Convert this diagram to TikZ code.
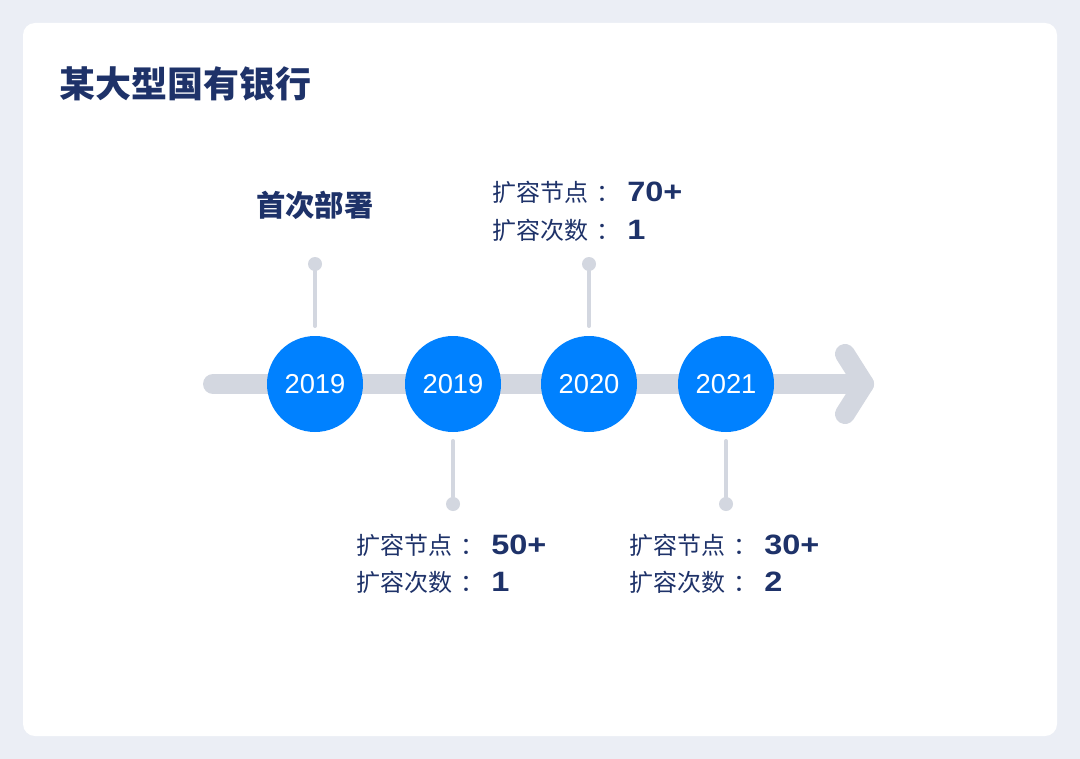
\documentclass[tikz,border=0pt]{standalone}
\usepackage{fontspec}
\setmainfont{Noto Sans CJK SC}
\newfontfamily\numfont{Liberation Sans}
\newfontfamily\valfont[FakeStretch=1.16]{Liberation Sans}
\definecolor{bgc}{HTML}{EBEEF5}
\definecolor{barc}{HTML}{D3D7E0}
\definecolor{bluec}{HTML}{0081FF}
\definecolor{navy}{HTML}{1E3269}
\newcommand{\colonsep}{\kern6.5pt}
\tikzset{
  yearnode/.style={circle, fill=bluec, minimum size=72pt, inner sep=0pt, text=white, font=\numfont\fontsize{20.5pt}{24pt}\selectfont},
  dotnode/.style={circle, fill=barc, minimum size=10.5pt, inner sep=0pt},
  stemline/.style={draw=barc, line width=3pt, line cap=round},
  barline/.style={draw=barc, line width=15pt, line cap=round, line join=round},
  titletext/.style={anchor=base west, inner sep=0pt, text=navy, font=\fontsize{27pt}{32pt}\selectfont\bfseries},
  headtext/.style={anchor=base west, inner sep=0pt, text=navy, font=\fontsize{22pt}{26pt}\selectfont\bfseries},
  labeltext/.style={anchor=base west, inner sep=0pt, text=navy, font=\fontsize{18pt}{22pt}\selectfont},
  valuetext/.style={anchor=base west, inner sep=0pt, text=navy, font=\valfont\fontsize{21pt}{24pt}\selectfont\bfseries},
}
\begin{document}
\begin{tikzpicture}[x=0.75pt, y=-0.75pt]
\useasboundingbox (0,0) rectangle (1080,759);
\fill[bgc] (0,0) rectangle (1080,759);
\fill[white, rounded corners=9pt] (23,23) rectangle (1057,736);

\node[titletext] (title) at (59,98) {某大型国有银行};

% timeline bar and arrow
\coordinate (barstart) at (213,384);
\coordinate (tip) at (864,384);
\coordinate (armtop) at (845,354);
\coordinate (armbot) at (845,414);
\draw[barline] (barstart) -- (tip);
\draw[barline] (armtop) -- (tip) -- (armbot);

% stems and dots
\node[dotnode] (p1) at (315,264) {};
\node[dotnode] (p2) at (453,504) {};
\node[dotnode] (p3) at (589,264) {};
\node[dotnode] (p4) at (726,504) {};
\coordinate (s1) at (315,326);
\coordinate (s2) at (453,441);
\coordinate (s3) at (589,326);
\coordinate (s4) at (726,441);
\draw[stemline] (p1) -- (s1);
\draw[stemline] (p2) -- (s2);
\draw[stemline] (p3) -- (s3);
\draw[stemline] (p4) -- (s4);

% year circles
\node[yearnode] (c1) at (315,384) {2019};
\node[yearnode] (c2) at (453,384) {2019};
\node[yearnode] (c3) at (589,384) {2020};
\node[yearnode] (c4) at (726,384) {2021};

% texts
\node[headtext] (h1) at (256,217) {首次部署};

\node[labeltext] (l3a) at (492,202) {扩容节点\colonsep：};
\node[valuetext] (v3a) at (627,202) {70+};
\node[labeltext] (l3b) at (492,239) {扩容次数\colonsep：};
\node[valuetext] (v3b) at (627,239) {1};

\node[labeltext] (l2a) at (356,554) {扩容节点\colonsep：};
\node[valuetext] (v2a) at (491,554) {50+};
\node[labeltext] (l2b) at (356,591) {扩容次数\colonsep：};
\node[valuetext] (v2b) at (491,591) {1};

\node[labeltext] (l4a) at (629,554) {扩容节点\colonsep：};
\node[valuetext] (v4a) at (764,554) {30+};
\node[labeltext] (l4b) at (629,591) {扩容次数\colonsep：};
\node[valuetext] (v4b) at (764,591) {2};
\end{tikzpicture}
\end{document}
